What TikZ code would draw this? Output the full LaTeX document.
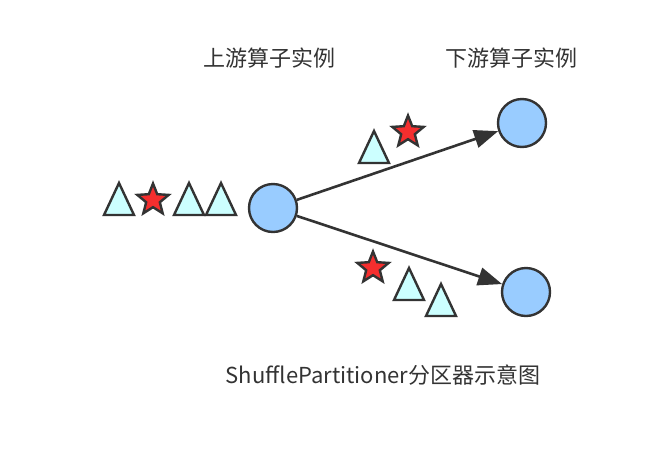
\documentclass[tikz,border=0pt]{standalone}
\usepackage{fontspec}
\setmainfont{Noto Sans CJK SC}
\usetikzlibrary{shapes.geometric,arrows.meta}
\definecolor{ln}{HTML}{333333}
\definecolor{cfill}{HTML}{99CCFF}
\definecolor{tfill}{HTML}{CCFFFF}
\definecolor{sfill}{HTML}{F52E2E}
\definecolor{txt}{HTML}{333333}
\tikzset{
  inst/.style={circle,draw=ln,fill=cfill,line width=2.4pt,minimum size=48pt,inner sep=0pt},
  starmark/.style={star,star points=5,star point ratio=2.3,draw=ln,fill=sfill,line width=2.4pt,minimum size=33pt,inner sep=0pt},
  tri/.pic={\draw[draw=ln,fill=tfill,line width=2.4pt,line join=miter] (-15,16) -- (15,16) -- (0,-16) -- cycle;},
  flow/.style={draw=ln,line width=2.6pt,-{Triangle[length=24pt,width=18pt]}},
  lbl/.style={text=txt,font=\fontsize{22pt}{26pt}\selectfont,inner sep=0pt}
}
\begin{document}
\begin{tikzpicture}[x=1pt,y=-1pt]
\useasboundingbox (0,0) rectangle (655,453);
\node[inst] (c0) at (273,208) {};
\node[inst] (c1) at (522,123) {};
\node[inst] (c2) at (526,292) {};
\draw[flow] (c0) -- (c1);
\draw[flow] (c0) -- (c2);
% left queue
\pic at (119,199) {tri};
\node[starmark] (s0) at (153,200) {};
\pic at (189,199) {tri};
\pic at (221,199) {tri};
% upper
\pic at (374,147) {tri};
\node[starmark] (s1) at (408,132) {};
% lower
\node[starmark] (s2) at (373,268) {};
\pic at (409,284) {tri};
\pic at (441,300) {tri};
\node[lbl] (l1) at (269,58) {上游算子实例};
\node[lbl] (l2) at (511,58) {下游算子实例};
\node[lbl] (l3) at (383,375) {ShufflePartitioner分区器示意图};
\end{tikzpicture}
\end{document}
